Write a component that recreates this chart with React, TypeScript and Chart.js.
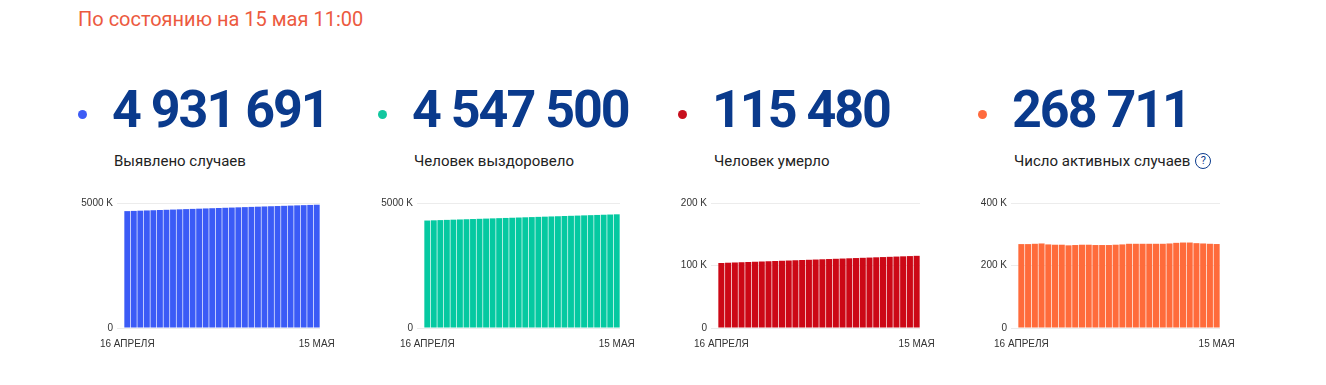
import React, { useEffect, useRef } from "react";
import { Chart, registerables } from "chart.js";

Chart.register(...registerables);

const dates: string[] = [
  "16 АПРЕЛЯ", "17 АПРЕЛЯ", "18 АПРЕЛЯ", "19 АПРЕЛЯ", "20 АПРЕЛЯ", "21 АПРЕЛЯ",
  "22 АПРЕЛЯ", "23 АПРЕЛЯ", "24 АПРЕЛЯ", "25 АПРЕЛЯ", "26 АПРЕЛЯ", "27 АПРЕЛЯ",
  "28 АПРЕЛЯ", "29 АПРЕЛЯ", "30 АПРЕЛЯ", "1 МАЯ", "2 МАЯ", "3 МАЯ", "4 МАЯ",
  "5 МАЯ", "6 МАЯ", "7 МАЯ", "8 МАЯ", "9 МАЯ", "10 МАЯ", "11 МАЯ", "12 МАЯ",
  "13 МАЯ", "14 МАЯ", "15 МАЯ",
];

const casesValues: number[] = [
  4675153, 4684148, 4693469, 4702101, 4710690, 4719318, 4728282, 4737121,
  4746376, 4755327, 4764237, 4773243, 4782245, 4791177, 4800016, 4808845,
  4817644, 4826244, 4835033, 4843825, 4852524, 4861313, 4870030, 4878683,
  4887298, 4896063, 4905077, 4913797, 4922901, 4931691,
];

const recoveredValues: number[] = [
  4298700, 4307400, 4316000, 4324600, 4333100, 4341600, 4350200, 4358900,
  4367600, 4376300, 4384900, 4393400, 4401900, 4410500, 4419100, 4427700,
  4436300, 4444900, 4453400, 4461900, 4470400, 4479000, 4487600, 4496200,
  4504800, 4513400, 4521900, 4530400, 4538900, 4547500,
];

const deathsValues: number[] = [
  104050, 104450, 104840, 105230, 105620, 106010, 106410, 106800, 107200,
  107590, 107980, 108380, 108770, 109160, 109550, 109950, 110340, 110740,
  111130, 111520, 111920, 112310, 112700, 113100, 113490, 113880, 114280,
  114670, 115070, 115480,
];

const activeValues: number[] = [
  268500, 268500, 269500, 270500, 267500, 266500, 266500, 264500, 265500,
  266500, 266500, 265500, 265500, 265500, 266500, 267500, 269500, 269500,
  269500, 269500, 269500, 269500, 270500, 272500, 273500, 273500, 271500,
  270500, 269500, 268711,
];

const titleText = "По состоянию на 15 мая 11:00";
const totals: string[] = ["4 931 691", "4 547 500", "115 480", "268 711"];
const captions: string[] = [
  "Выявлено случаев",
  "Человек выздоровело",
  "Человек умерло",
  "Число активных случаев",
];
const yMax: number[] = [5000000, 5000000, 200000, 400000];
const yStep: number[] = [5000000, 5000000, 100000, 200000];
const dotColors: string[] = ["#3d5cf5", "#12c79f", "#c8101e", "#ff6a3d"];
const barColors: string[] = ["#3b5bf6", "#05c9a1", "#cc0816", "#ff6b3b"];
const seriesList: number[][] = [casesValues, recoveredValues, deathsValues, activeValues];

const NUM_COLOR = "#0a3a8c";

function MiniChart(props: { idx: number }) {
  const { idx } = props;
  const ref = useRef<HTMLCanvasElement | null>(null);
  useEffect(() => {
    if (!ref.current) return;
    const axisW = idx < 2 ? 64 : 58;
    const last = dates.length - 1;
    const chart = new Chart(ref.current, {
      type: "bar",
      data: {
        labels: dates,
        datasets: [
          {
            data: seriesList[idx],
            backgroundColor: barColors[idx],
            borderWidth: 0,
            barPercentage: 0.9,
            categoryPercentage: 1,
          },
        ],
      },
      options: {
        animation: false,
        responsive: false,
        maintainAspectRatio: false,
        layout: { padding: { top: 13, right: 30, bottom: 0, left: 0 } },
        plugins: { legend: { display: false }, tooltip: { enabled: false } },
        scales: {
          x: {
            grid: { display: false, drawTicks: false },
            border: { display: false },
            ticks: {
              autoSkip: false,
              maxRotation: 0,
              minRotation: 0,
              padding: 10,
              color: "#333",
              font: { family: "'Liberation Sans', Arial, sans-serif", size: 10 },
              callback: (_v: any, i: number) => (i === 0 || i === last ? dates[i] : ""),
            },
          },
          y: {
            min: 0,
            max: yMax[idx],
            border: { display: false },
            grid: { color: "#ececec", lineWidth: 1, drawTicks: true, tickLength: 7 },
            afterFit: (scale: any) => {
              scale.width = axisW;
            },
            ticks: {
              stepSize: yStep[idx],
              padding: 4,
              color: "#333",
              font: { family: "'Liberation Sans', Arial, sans-serif", size: 10 },
              callback: (v: any) => (Number(v) === 0 ? "0" : `${Number(v) / 1000} K`),
            },
          },
        },
      },
    });
    return () => chart.destroy();
  }, [idx]);
  return (
    <canvas
      ref={ref}
      width={290}
      height={170}
      style={{ position: "absolute", left: 60 + idx * 300, top: 190, width: 290, height: 170 }}
    />
  );
}

export default function App() {
  return (
    <div
      style={{
        position: "fixed",
        left: 0,
        top: 0,
        width: 1326,
        height: 385,
        background: "#fff",
        fontFamily: "Roboto, sans-serif",
        overflow: "hidden",
      }}
    >
      <div
        style={{
          position: "absolute",
          left: 78,
          top: 7,
          fontSize: 20,
          lineHeight: "24px",
          color: "#ec5a3f",
          whiteSpace: "nowrap",
        }}
      >
        {titleText}
      </div>
      {totals.map((t, i) => (
        <React.Fragment key={i}>
          <div
            style={{
              position: "absolute",
              left: 78 + i * 300,
              top: 110,
              width: 9,
              height: 9,
              borderRadius: "50%",
              background: dotColors[i],
            }}
          />
          <div
            style={{
              position: "absolute",
              left: 112 + i * 300,
              top: 84,
              fontSize: 52,
              lineHeight: "52px",
              fontWeight: 700,
              color: NUM_COLOR,
              whiteSpace: "nowrap",
              letterSpacing: "-2px",
            }}
          >
            {t}
          </div>
          <div
            style={{
              position: "absolute",
              left: 114 + i * 300,
              top: 152,
              fontSize: 15,
              lineHeight: "18px",
              color: "#222",
              whiteSpace: "nowrap",
              display: "flex",
              alignItems: "center",
            }}
          >
            {captions[i]}
            {i === 3 ? (
              <span
                style={{
                  display: "inline-flex",
                  alignItems: "center",
                  justifyContent: "center",
                  width: 14,
                  height: 14,
                  marginLeft: 5,
                  border: `1px solid ${NUM_COLOR}`,
                  borderRadius: "50%",
                  fontSize: 11,
                  lineHeight: "14px",
                  color: NUM_COLOR,
                }}
              >
                ?
              </span>
            ) : null}
          </div>
          <MiniChart idx={i} />
        </React.Fragment>
      ))}
    </div>
  );
}
